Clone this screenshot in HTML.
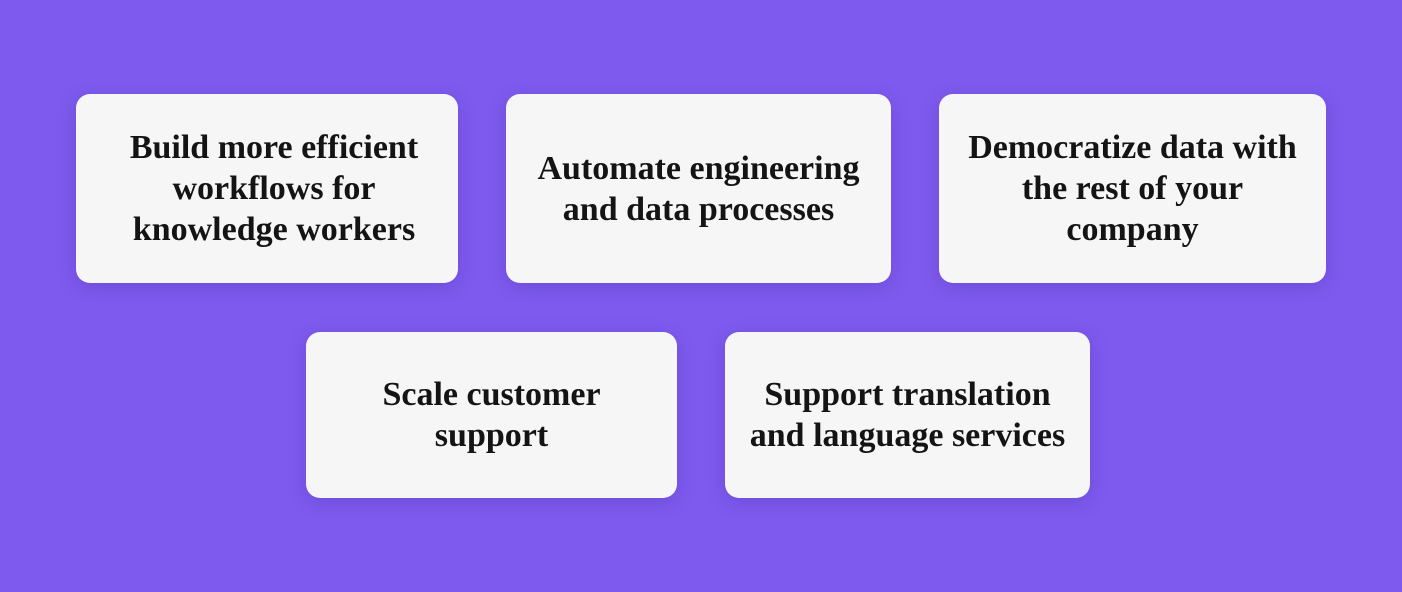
<!DOCTYPE html>
<html><head><meta charset="utf-8"><style>
html,body{margin:0;padding:0}
body{width:1402px;height:592px;background:#7e5bee;position:relative;overflow:hidden;font-family:"Liberation Serif",serif}
.c{position:absolute;background:#f6f6f6;border-radius:14px;box-shadow:0 4px 18px rgba(60,30,150,0.25);display:flex;align-items:center;justify-content:center;text-align:center;font-weight:bold;font-size:34px;line-height:41px;color:#141414;padding-top:0px;box-sizing:border-box;letter-spacing:0px}
</style></head><body>
<div class="c" style="left:76px;top:94px;width:382px;height:189px;padding-left:14px">Build more efficient<br>workflows for<br>knowledge workers</div>
<div class="c" style="left:506px;top:94px;width:385px;height:189px">Automate engineering<br>and data processes</div>
<div class="c" style="left:939px;top:94px;width:387px;height:189px">Democratize data with<br>the rest of your<br>company</div>
<div class="c" style="left:306px;top:332px;width:371px;height:166px">Scale customer<br>support</div>
<div class="c" style="left:725px;top:332px;width:365px;height:166px">Support translation<br>and language services</div>
</body></html>
